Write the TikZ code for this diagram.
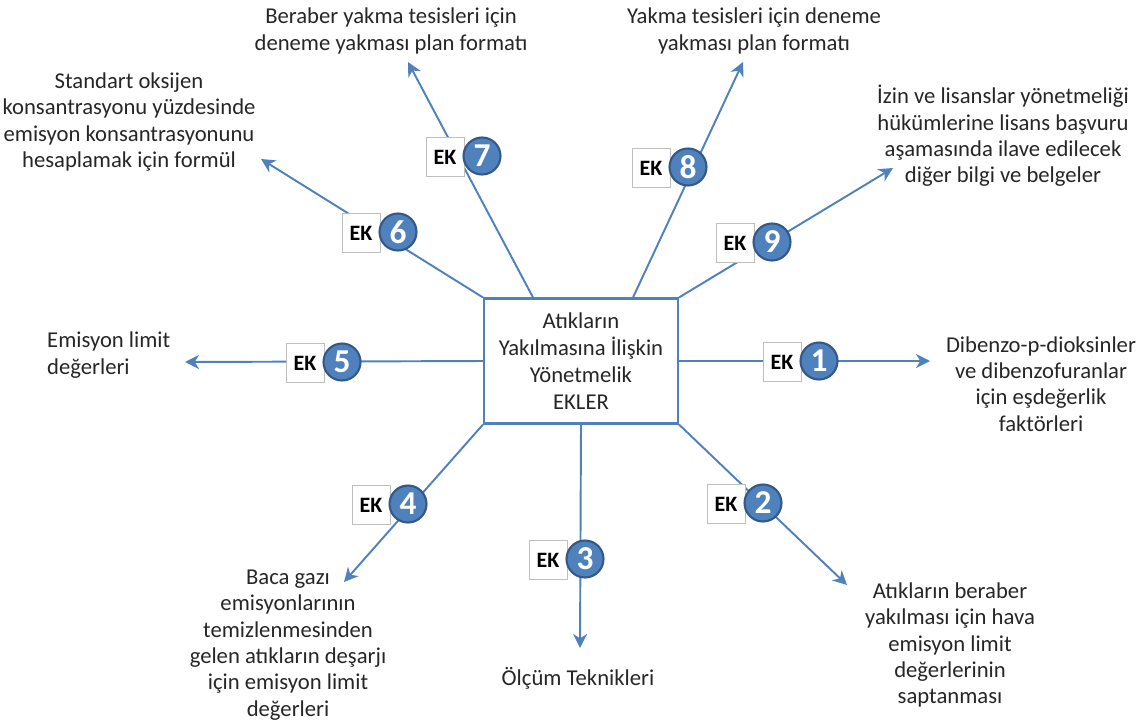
\documentclass[tikz,border=0pt]{standalone}
\usepackage{fontspec}
\setmainfont{Carlito}
\usetikzlibrary{arrows.meta}
\definecolor{ekblue}{RGB}{79,129,189}
\definecolor{ekdark}{RGB}{52,88,135}
\definecolor{ekgrey}{RGB}{191,191,191}
\begin{document}
\begin{tikzpicture}[x=0.02cm,y=-0.02cm,>={Stealth[length=8pt,width=8pt,inset=2.5pt]},
  every node/.style={font=\fontsize{12.9}{15}\selectfont,text=black!85},
  txt/.style={align=center},
  ln/.style={ekblue,line width=1.1pt},
  ekbox/.style={draw=ekgrey,fill=white,minimum width=0.76cm,minimum height=0.78cm,inner sep=0pt,font=\fontsize{12.5}{15}\bfseries\selectfont,text=black},
  ekno/.style={circle,draw=ekdark,line width=1.2pt,fill=ekblue,minimum size=0.74cm,inner sep=0pt,text=white,font=\fontsize{19}{20}\bfseries\selectfont}]
  \useasboundingbox (0,0) rectangle (1148,727);
  \node[draw=ekblue,line width=1.2pt,minimum width=3.88cm,minimum height=2.5cm,align=center,font=\fontsize{12.9}{15.3}\selectfont] (yon) at (581,361) {Atıkların\\Yakılmasına İlişkin\\Yönetmelik\\EKLER};
  % ends of the arrows
  \coordinate (t1) at (930,361); \coordinate (t2) at (847,585); \coordinate (t3) at (580,648);
  \coordinate (t4) at (344,582); \coordinate (t5) at (185,362); \coordinate (t6) at (261,159);
  \coordinate (t7) at (408,62);  \coordinate (t8) at (743,62);  \coordinate (t9) at (893,168);
  \coordinate (s7) at ([xshift=-0.96cm]yon.north); \coordinate (s8) at ([xshift=1.04cm]yon.north);
  \draw[ln,->] (yon.east)--(t1); \draw[ln,->] (yon.south east)--(t2); \draw[ln,->] (yon.south)--(t3);
  \draw[ln,->] (yon.south west)--(t4); \draw[ln,->] (yon.west)--(t5); \draw[ln,->] (yon.north west)--(t6);
  \draw[ln,->] (s7)--(t7); \draw[ln,->] (s8)--(t8); \draw[ln,->] (yon.north east)--(t9);
  % badges
  \foreach \n/\x/\y in {1/819/361,2/763/503,3/585/559,4/408/504,5/342/362,6/398/232,7/482/156,8/688/167,9/772/242}{
    \node[ekbox] (k\n) at (\x-37,\y+1) {EK};
    \node[ekno] (n\n) at (\x,\y) {\n};
  }
  % texts
  \node[txt] (a1) at (1041,384) {Dibenzo-p-dioksinler\\ve dibenzofuranlar\\için eşdeğerlik\\faktörleri};
  \node[txt] (a2) at (950,645) {Atıkların beraber\\yakılması için hava\\emisyon limit\\değerlerinin\\saptanması};
  \node[txt] (a3) at (578,678) {Ölçüm Teknikleri};
  \node[txt] (a4) at (288,645) {Baca gazı\\emisyonlarının\\temizlenmesinden\\gelen atıkların deşarjı\\için emisyon limit\\değerleri};
  \node[align=left,anchor=west] (a5) at (41,355) {Emisyon limit\\değerleri};
  \node[txt] (a6) at (129,122) {Standart oksijen\\konsantrasyonu yüzdesinde\\emisyon konsantrasyonunu\\hesaplamak için formül};
  \node[txt] (a7) at (391,31) {Beraber yakma tesisleri için\\deneme yakması plan formatı};
  \node[txt] (a8) at (754,31) {Yakma tesisleri için deneme\\yakması plan formatı};
  \node[txt] (a9) at (1003,136) {İzin ve lisanslar yönetmeliği\\hükümlerine lisans başvuru\\aşamasında ilave edilecek\\diğer bilgi ve belgeler};
\end{tikzpicture}
\end{document}
